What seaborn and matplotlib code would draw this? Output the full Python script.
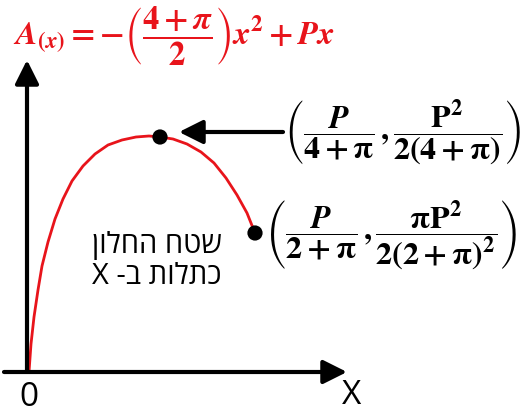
import matplotlib
matplotlib.use('Agg')
import matplotlib.pyplot as plt
import seaborn as sns
import pandas as pd

# === DATA (origin of the axes = 0,0) ===
CURVE_X = [2, 4, 7, 11, 15, 21, 28, 36, 45, 56, 68, 81, 95, 109, 122, 133,
           146, 160, 174, 187, 199, 210, 220, 228]
CURVE_Y = [0, 28, 55, 82, 106, 130, 153, 173, 191, 206, 218, 227, 232, 235,
           236, 235, 233, 228, 220, 209, 194, 177, 159, 139]
DOT_X = [133, 228]
DOT_Y = [235, 139]

TITLE = (r'$\mathbfit{A}_{(\mathbfit{x})}=-\left(\dfrac{4+\mathbfit{\pi}}{2}\right)'
         r'\mathbfit{x}^{2}+\mathbfit{Px}$')
LABEL_MAX = r'$\left(\dfrac{\mathbfit{P}}{4+\pi}\,,\dfrac{P^{2}}{2(4+\pi)}\right)$'
LABEL_END = r'$\left(\dfrac{\mathbfit{P}}{2+\pi}\,,\dfrac{\pi P^{2}}{2(2+\pi)^{2}}\right)$'
HEB_LINES = ['שטח החלון', 'כתלות ב- X']
ORIGIN_LABEL = '0'
X_LABEL = 'X'

RED = '#e8141b'
# === END DATA ===

sns.set_theme(style='white')
plt.rcParams['font.family'] = ['Open Sans', 'DejaVu Sans']
plt.rcParams['mathtext.fontset'] = 'stix'
plt.rcParams['mathtext.default'] = 'bf'
plt.rcParams['text.color'] = 'black'

fig = plt.figure(figsize=(5.25, 4.16), dpi=100)
ax = fig.add_axes([0, 0, 1, 1])
ax.set_xlim(-27, 498)
ax.set_ylim(-44, 372)
ax.axis('off')

arrow = dict(arrowstyle='-|>,head_length=0.8,head_width=0.4', lw=3,
             color='black', mutation_scale=18, shrinkA=0, shrinkB=0)
# axes
ax.annotate('', xy=(0, 312), xytext=(0, 0), arrowprops=arrow)
ax.annotate('', xy=(320, 0), xytext=(-23, 0), arrowprops=arrow)
# pointer to the maximum
ax.annotate('', xy=(152, 240), xytext=(256, 240), arrowprops=arrow)

df = pd.DataFrame({'x': CURVE_X, 'y': CURVE_Y})
sns.lineplot(data=df, x='x', y='y', sort=False, color=RED, lw=2, ax=ax,
             solid_capstyle='round')
sns.scatterplot(x=DOT_X, y=DOT_Y, color='black', s=120, edgecolor='none',
                ax=ax, zorder=5)

ax.text(-14, 336, TITLE, color=RED, fontsize=23.5, ha='left', va='center')
ax.text(257, 239, LABEL_MAX, color='black', fontsize=23, ha='left', va='center')
ax.text(238, 136, LABEL_END, color='black', fontsize=23, ha='left', va='center')

# matplotlib has no bidi, so reverse the Hebrew lines for display
ax.text(130, 127, HEB_LINES[0][::-1], fontsize=21, color='black',
        ha='center', va='center')
ax.text(130, 95, HEB_LINES[1][::-1], fontsize=21, color='black',
        ha='center', va='center')

ax.text(2, -25, ORIGIN_LABEL, fontsize=24, color='black', ha='center', va='center')
ax.text(325, -24, X_LABEL, fontsize=24, color='black', ha='center', va='center')

fig.savefig('out.png', dpi=100)
